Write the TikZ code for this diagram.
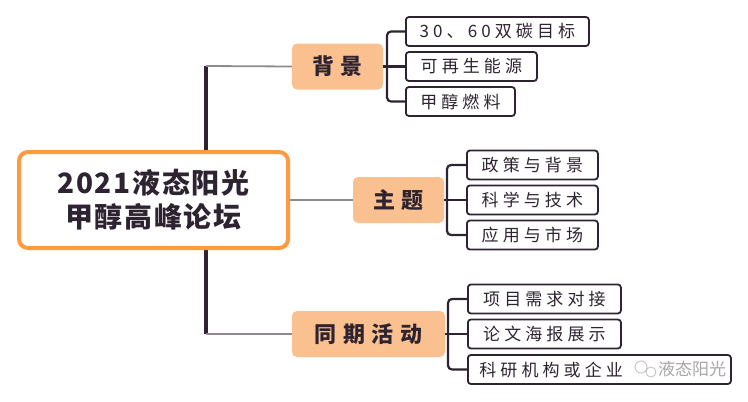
\documentclass[tikz,border=0pt]{standalone}
\usepackage{fontspec}
\usepackage{xcolor,tikz}
\usetikzlibrary{positioning}
\newfontfamily\titlefont[LetterSpace=6]{Noto Sans CJK SC}
\newfontfamily\catfont[LetterSpace=30]{Noto Sans CJK SC}
\newfontfamily\leaffont[LetterSpace=24]{Noto Sans CJK SC}
\newfontfamily\markfont{Noto Sans CJK SC}
\definecolor{orangeline}{HTML}{FF9A40}
\definecolor{peach}{HTML}{FAC08F}
\definecolor{inkdark}{HTML}{2E2431}
\definecolor{linegrey}{HTML}{8E8A8F}
\tikzset{
  mainbox/.style={draw=orangeline, line width=4pt, rounded corners=9pt, fill=white,
    minimum width=269pt, minimum height=96pt, align=center, text=inkdark,
    font=\titlefont\bfseries\fontsize{28}{34}\selectfont},
  catbox/.style={fill=peach, rounded corners=5pt, minimum height=46pt, text=inkdark,
    font=\catfont\bfseries\fontsize{22}{22}\selectfont},
  leafbox/.style={draw=inkdark, line width=1.8pt, rounded corners=3pt, fill=white,
    minimum height=29pt, anchor=west, text=inkdark,
    font=\leaffont\fontsize{17}{17}\selectfont},
  trunk/.style={inkdark, line width=4pt},
  branch/.style={linegrey, line width=1.8pt},
  brace/.style={inkdark, line width=2.2pt, rounded corners=4pt}
}

\begin{document}
\begin{tikzpicture}[x=1pt,y=-1pt]
        \useasboundingbox (0,0) rectangle (748,402);
        \coordinate (trunktop) at (206,66);
        \coordinate (trunkbot) at (206,334);
        \draw[trunk] (trunktop) -- (trunkbot);
        %%%% centre
        \node[mainbox] (forum) at (153.5,200) {2021液态阳光\\甲醇高峰论坛};
        %%%% topics
        \node[catbox, minimum width=91pt] (bg) at (337.5,66.5) {背景};
        \node[catbox, minimum width=91pt] (topic) at (398.5,200) {主题};
        \node[catbox, minimum width=153pt] (event) at (368.5,334) {同期活动};
        \draw[branch] (trunktop) -- (bg.west);
        \draw[branch] (forum.east) -- (topic.west);
        \draw[branch] (trunkbot) -- (event.west);
        %%%% background
        \node[leafbox, minimum width=183pt] (bg1) at (405,31.5) {30、60双碳目标};
        \node[leafbox, minimum width=131pt] (bg2) at (405,66.5) {可再生能源};
        \node[leafbox, minimum width=109pt] (bg3) at (405,101.5) {甲醇燃料};
        \draw[brace] (bg1.west) -- ++(-18,0) |- (bg3.west);
        \draw[brace] (bg.east) -- (bg2.west);
        %%%% theme
        \node[leafbox, minimum width=131pt] (tp1) at (466,165) {政策与背景};
        \node[leafbox, minimum width=131pt] (tp2) at (466,200) {科学与技术};
        \node[leafbox, minimum width=131pt] (tp3) at (466,235) {应用与市场};
        \draw[brace] (tp1.west) -- ++(-19,0) |- (tp3.west);
        \draw[brace] (topic.east) -- (tp2.west);
        %%%% events
        \node[leafbox, minimum width=153pt] (ev1) at (467,299) {项目需求对接};
        \node[leafbox, minimum width=153pt] (ev2) at (467,334) {论文海报展示};
        \node[leafbox, minimum width=263pt] (ev3) at (467,369.5) {\makebox[240pt][l]{科研机构或企业}};
        \draw[brace] (ev1.west) -- ++(-19,0) |- (ev3.west);
        \draw[brace] (event.east) -- (ev2.west);
        %%%% watermark
        \node[text=gray!70, font=\markfont\fontsize{17}{17}\selectfont, fill=white, fill opacity=.6, text opacity=1, inner sep=1pt] (mark) at (692,369) {液态阳光};
        \draw[gray!50, line width=.8pt] (641,367) circle (6pt) (651,372) circle (5pt);
    \end{tikzpicture}
\end{document}
